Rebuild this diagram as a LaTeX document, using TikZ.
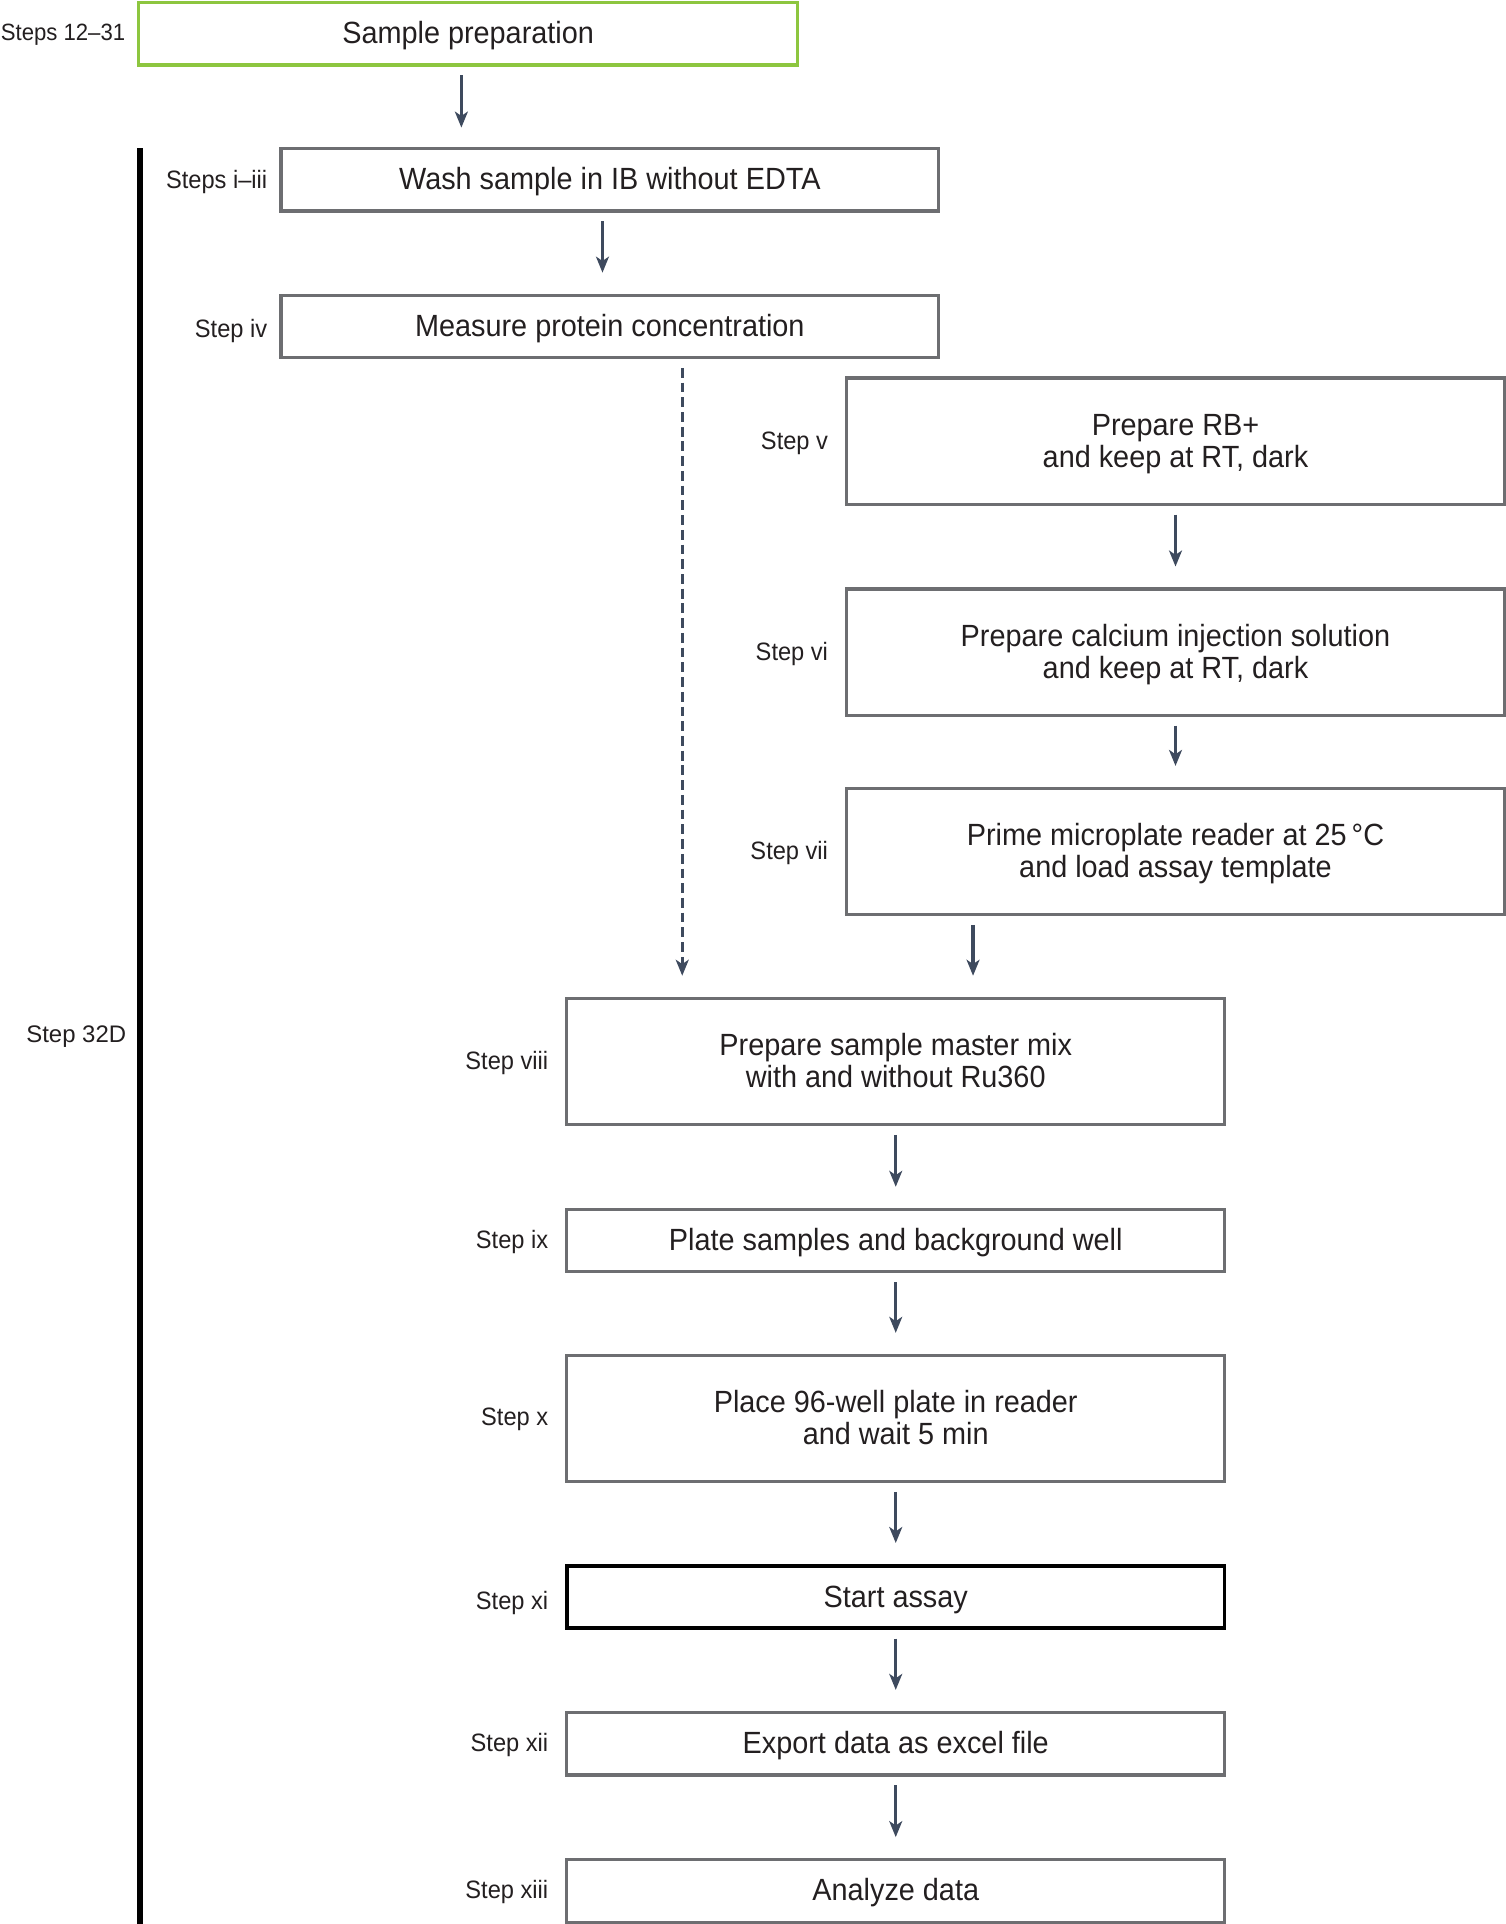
\documentclass[tikz,border=0pt]{standalone}
\usepackage{fontspec}
\setmainfont[FakeStretch=0.94]{Liberation Sans}
\newfontfamily\widefont{Liberation Sans}
\usetikzlibrary{arrows.meta}
\definecolor{boxgray}{HTML}{6D6E71}
\definecolor{arrowc}{HTML}{3E4A5E}
\definecolor{leafgreen}{HTML}{8DC63F}
\definecolor{txt}{HTML}{231F20}
\newcommand\boxtext[1]{\raisebox{0pt}[\dimexpr\height+6pt\relax][\depth]{\begin{tabular}{@{}c@{}}#1\end{tabular}}}
\begin{document}
\begin{tikzpicture}[x=1pt,y=-1pt,
  stepbox/.style={draw=boxgray, line width=2.6pt, minimum width=536pt, inner sep=0pt,
    align=center, text=txt, font=\fontsize{25}{26}\selectfont},
  tallbox/.style={stepbox, minimum height=103pt},
  flatbox/.style={stepbox, minimum height=51pt},
  steplabel/.style={anchor=east, text=txt, inner sep=0pt, font=\fontsize{20.5}{24}\selectfont},
  arr/.style={draw=arrowc, line width=2.8pt, -{Stealth[length=13pt,width=10.5pt,inset=3.5pt]},
    shorten <=7pt, shorten >=17pt},
  dasharr/.style={arr, dash pattern=on 8pt off 4pt}]
\useasboundingbox (0,0) rectangle (1227,1568);

% top box
\node[stepbox, draw=leafgreen, line width=3pt, minimum height=51pt, minimum width=537pt] (prep) at (381.5,27.5) {\boxtext{Sample preparation}};
\node[steplabel, anchor=west, font=\fontsize{19.2}{22}\selectfont] (lprep) at (0.5,28.5) {Steps 12--31};

% bracket bar
\draw[line width=5.5pt, black] (114,121) coordinate (bartop) -- (114,1570) coordinate (barbot);
\node[anchor=east, text=txt, inner sep=0pt, font=\widefont\fontsize{19.5}{22}\selectfont] (l32) at (103,845) {Step 32D};

% left column
\node[flatbox] (wash) at (497,146.5) {\boxtext{Wash sample in IB without EDTA}};
\node[steplabel] (lwash) at (218,148) {Steps i--iii};
\node[flatbox] (measure) at (497,266) {\boxtext{Measure protein concentration}};
\node[steplabel] (lmeasure) at (218,270) {Step iv};

% right column
\node[tallbox] (rb) at (958,359.5) {\boxtext{Prepare RB+\\and keep at RT, dark}};
\node[steplabel] (lrb) at (675,361) {Step v};
\node[tallbox] (ca) at (958,531.5) {\boxtext{Prepare calcium injection solution\\and keep at RT, dark}};
\node[steplabel] (lca) at (675,533) {Step vi};
\node[tallbox] (prime) at (958,694) {\boxtext{Prime microplate reader at 25\,°C\\and load assay template}};
\node[steplabel] (lprime) at (675,695) {Step vii};

% lower column
\node[tallbox] (mix) at (730,865) {\boxtext{Prepare sample master mix\\with and without Ru360}};
\node[steplabel] (lmix) at (447,866) {Step viii};
\node[flatbox] (plate) at (730,1011) {\boxtext{Plate samples and background well}};
\node[steplabel] (lplate) at (447,1012) {Step ix};
\node[tallbox] (place) at (730,1156) {\boxtext{Place 96-well plate in reader\\and wait 5 min}};
\node[steplabel] (lplace) at (447,1157) {Step x};
\node[flatbox, draw=black, line width=3pt] (start) at (730,1301.5) {\boxtext{Start assay}};
\node[steplabel] (lstart) at (447,1306) {Step xi};
\node[flatbox] (export) at (730,1421) {\boxtext{Export data as excel file}};
\node[steplabel] (lexport) at (447,1422) {Step xii};
\node[flatbox] (analyze) at (730,1541) {\boxtext{Analyze data}};
\node[steplabel] (lanalyze) at (447,1542) {Step xiii};

% connectors
\coordinate (a1end) at (376,121);
\draw[arr] (prep.south -| a1end) -- (a1end);
\coordinate (cw) at (491,0);
\draw[arr] (wash.south -| cw) -- (measure.north -| cw);
\coordinate (cd) at (556,0);
\draw[dasharr] (measure.south -| cd) -- (mix.north -| cd);
\draw[arr] (rb) -- (ca);
\draw[arr] (ca) -- (prime);
\coordinate (c7) at (793,0);
\draw[arr] (prime.south -| c7) -- (mix.north -| c7);
\draw[arr] (mix) -- (plate);
\draw[arr] (plate) -- (place);
\draw[arr] (place) -- (start);
\draw[arr] (start) -- (export);
\draw[arr] (export) -- (analyze);
\end{tikzpicture}
\end{document}
